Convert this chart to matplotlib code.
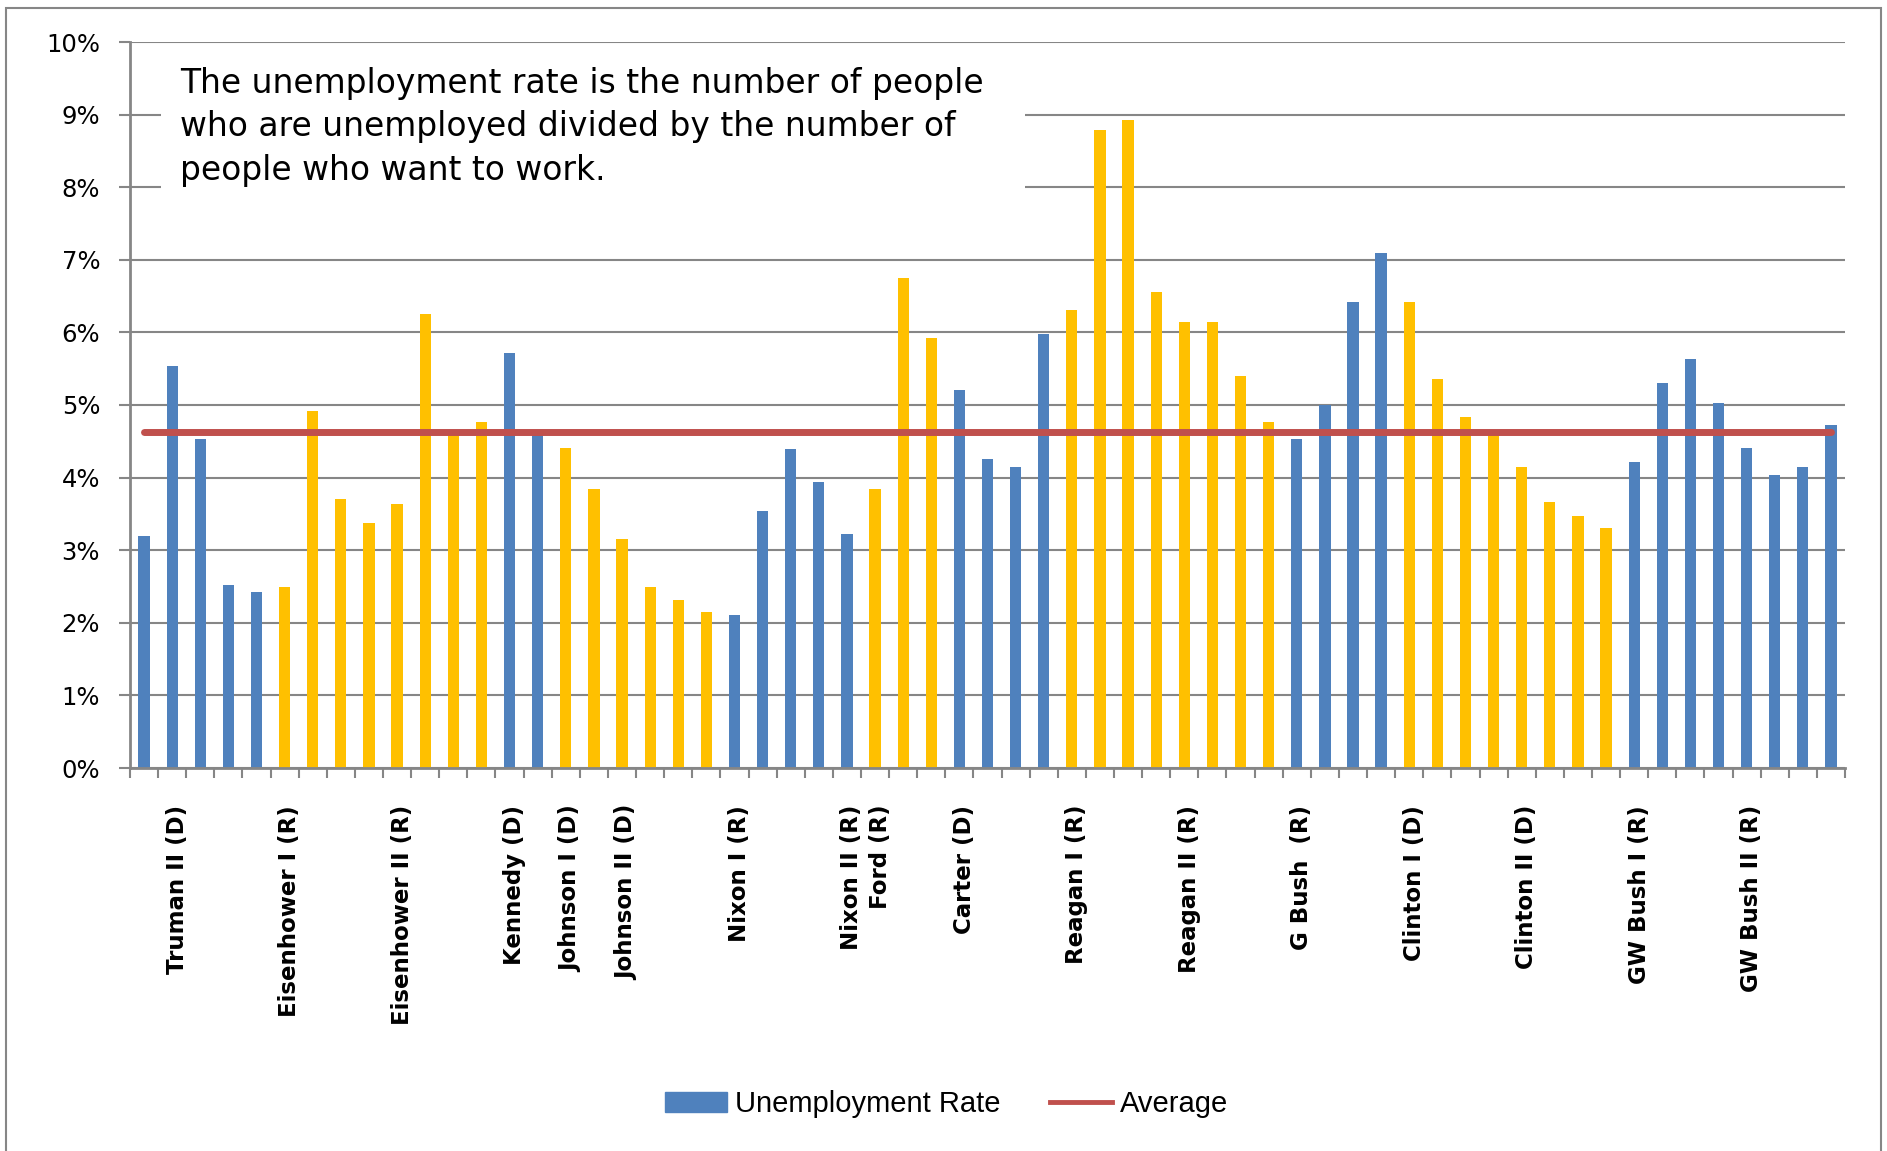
import matplotlib
matplotlib.use('Agg')
import matplotlib.pyplot as plt
import matplotlib.patches as mpatches
import matplotlib.transforms as mtransforms
from matplotlib.lines import Line2D
from matplotlib.ticker import FixedLocator, PercentFormatter
import numpy as np

# yearly unemployment rate (%), 1948 .. 2008
RATES = [3.19, 5.54, 4.53, 2.52, 2.42,
         2.49, 4.92, 3.70, 3.37, 3.63, 6.25, 4.62, 4.76,
         5.71, 4.60,
         4.41, 3.84, 3.16, 2.49, 2.31, 2.15,
         2.11, 3.54, 4.39, 3.94, 3.23,
         3.84, 6.75, 5.92,
         5.20, 4.25, 4.15, 5.98,
         6.31, 8.79, 8.93, 6.56, 6.15, 6.15, 5.40, 4.76,
         4.53, 5.00, 6.42, 7.09,
         6.42, 5.36, 4.83, 4.60, 4.15, 3.67, 3.47, 3.30,
         4.22, 5.30, 5.64, 5.03, 4.41, 4.04, 4.15, 4.73]
AVERAGE = 4.63

# first bar of each president (colours alternate per president)
TERM_STARTS = [0, 5, 13, 15, 21, 26, 29, 33, 41, 45, 53]

LABEL_POS = [1, 5, 9, 13, 15, 17, 21, 25, 26, 29, 33, 37, 41, 45, 49, 53, 57]
LABELS = ['Truman II (D)', 'Eisenhower I (R)', 'Eisenhower II (R)',
          'Kennedy (D)', 'Johnson I (D)', 'Johnson II (D)', 'Nixon I (R)',
          'Nixon II (R)', 'Ford (R)', 'Carter (D)', 'Reagan I (R)',
          'Reagan II (R)', 'G Bush  (R)', 'Clinton I (D)', 'Clinton II (D)',
          'GW Bush I (R)', 'GW Bush II (R)']

NOTE = ('The unemployment rate is the number of people\n'
        'who are unemployed divided by the number of\n'
        'people who want to work.')

BLUE = '#4F81BD'
GOLD = '#FFC000'
RED  = '#C0504D'
GRID = '#868686'

n = len(RATES)
colors = []
for i in range(n):
    k = sum(1 for s in TERM_STARTS if s <= i) - 1
    colors.append(BLUE if k % 2 == 0 else GOLD)

W, H = 1887, 1151
fig = plt.figure(figsize=(W / 100, H / 100), dpi=100)
ax = fig.add_axes([130 / W, 1 - 768 / H, 1715 / W, 726 / H])

x = np.arange(n)
ax.bar(x, RATES, width=0.4, color=colors, zorder=3)
ax.plot([x[0], x[-1]], [AVERAGE, AVERAGE], color=RED, lw=5,
        solid_capstyle='round', zorder=4)

ax.set_xlim(-0.5, n - 0.5)
ax.set_ylim(0, 10)
ax.set_yticks(range(0, 11))
ax.yaxis.set_major_formatter(PercentFormatter(decimals=0))
ax.grid(axis='y', color=GRID, lw=1.5, zorder=0)
ax.set_axisbelow(True)

for s in ['top', 'right']:
    ax.spines[s].set_visible(False)
for s in ['left', 'bottom']:
    ax.spines[s].set_color(GRID)
    ax.spines[s].set_linewidth(2)
    ax.spines[s].set_zorder(5)

ax.tick_params(axis='y', length=8, width=1.5, color=GRID, pad=13.5,
               labelsize=17.5)

ax.xaxis.set_major_locator(FixedLocator(LABEL_POS))
ax.set_xticklabels(LABELS, rotation=90, fontweight='bold', fontsize=16.5)
ax.xaxis.set_minor_locator(FixedLocator(np.arange(-0.5, n, 1)))
ax.tick_params(axis='x', which='major', length=0, pad=26.5)
ax.tick_params(axis='x', which='minor', length=7, width=1.5, color=GRID)
shift = mtransforms.ScaledTranslation(0.05, 0, fig.dpi_scale_trans)
for lab in ax.get_xticklabels():
    lab.set_transform(lab.get_transform() + shift)

# white box behind the note
fig.patches.append(mpatches.Rectangle((161 / W, 1 - 235 / H), 864 / W, 185 / H,
                                      transform=fig.transFigure,
                                      facecolor='white', edgecolor='none'))
fig.text(180 / W, 1 - 67 / H, NOTE, fontsize=23.7, va='top', ha='left',
         linespacing=1.4, zorder=6)

# outer chart border
fig.patches.append(mpatches.Rectangle((6 / W, -0.1), 1875 / W, 1.1 - 8 / H,
                                      transform=fig.transFigure, fill=False,
                                      edgecolor=GRID, lw=1.5))

handles = [mpatches.Patch(color=BLUE),
           Line2D([], [], color=RED, lw=3.5)]
fig.legend(handles, ['Unemployment Rate', 'Average'], loc='center',
           bbox_to_anchor=(947 / W, 1 - 1104 / H), ncol=2, frameon=False,
           prop={'family': 'Liberation Sans', 'size': 21},
           handlelength=2.1, handletextpad=0.3, columnspacing=1.7)

fig.savefig('out.png', dpi=100)
